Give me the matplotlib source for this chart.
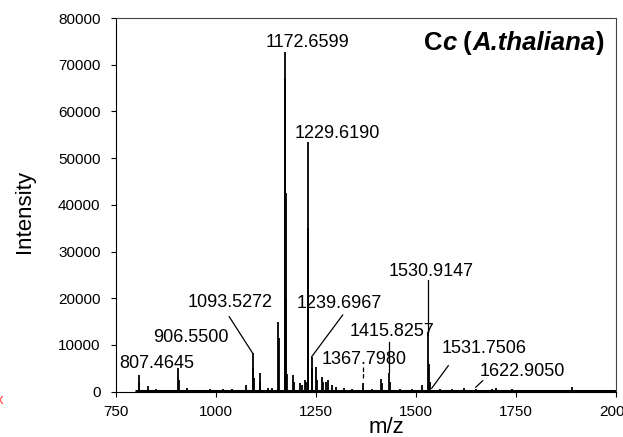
import matplotlib
matplotlib.use("Agg")
import matplotlib.pyplot as plt

plt.rcParams["font.family"] = ["Liberation Sans", "DejaVu Sans"]

# peak list (m/z, intensity)
peak_mz = [806.7, 808.0, 831, 850, 870, 905.8, 907.0, 928, 955, 985, 1016.7, 1040, 1060,
           1075, 1091.7, 1093.5, 1095, 1109, 1111, 1130, 1140, 1154, 1156.5,
           1172.5, 1173.5, 1174.5, 1175.5, 1178, 1193, 1195, 1210, 1214, 1222, 1225,
           1229, 1230, 1231, 1239, 1241, 1250, 1253, 1264, 1267, 1275, 1281, 1290,
           1300, 1320, 1340, 1367.5, 1390, 1413, 1416, 1431.7, 1434, 1460, 1490,
           1515.8, 1530.8, 1532, 1534, 1560, 1590, 1620, 1650, 1690, 1700, 1740,
           1780, 1830, 1889, 1930, 1970]
peak_int = [3500, 1800, 1300, 500, 450, 5100, 2500, 700, 450, 650, 600, 500, 450,
            1500, 8300, 5000, 3000, 3900, 2000, 700, 800, 14900, 11500,
            72800, 67000, 42600, 20000, 3800, 3500, 2000, 1900, 1500, 2500, 2000,
            53500, 35000, 18000, 7400, 5000, 5200, 2500, 3200, 2000, 2000, 2500, 1500,
            1000, 800, 600, 1900, 500, 2800, 1800, 3900, 2000, 600, 500,
            1430, 12800, 6000, 2000, 600, 500, 700, 500, 600, 700, 500,
            450, 400, 1070, 400, 350]

baseline_mz = [798, 2000]
baseline_int = [250, 250]

# annotations: label, text position (m/z, intensity), leader start, leader end, style
labels = ["807.4645", "906.5500", "1093.5272", "1172.6599", "1229.6190", "1239.6967",
          "1367.7980", "1415.8257", "1530.9147", "1531.7506", "1622.9050"]
label_xy = [(852.5, 6080), (936, 11650), (1035, 19200), (1228.75, 74660), (1303.75, 55320),
            (1307.5, 18930), (1371, 6790), (1440, 12850), (1537, 25690), (1671, 9290),
            (1766, 4280)]
leaders = {
    "1093.5272": ((1033, 16060), (1091.75, 8220), "-"),
    "1239.6967": ((1316.75, 16420), (1239.25, 7490), "-"),
    "1367.7980": ((1367.5, 5290), (1367.5, 2930), "--"),
    "1415.8257": ((1432.5, 10700), (1432.5, 4220), "-"),
    "1530.9147": ((1530.75, 23910), (1530.75, 12780), "-"),
    "1531.7506": ((1580.75, 5570), (1539.25, 730), "-"),
    "1622.9050": ((1666.75, 2355), (1649.25, 940), "-"),
}

# title pieces: (text, italic)
title_parts = [("C", False), ("c", True), (" (", False), ("A.thaliana", True), (")", False)]

fig = plt.figure(figsize=(6.23, 4.37), dpi=100)
ax = fig.add_axes([0.1862, 0.1037, 0.8026, 0.8551])

ax.plot(baseline_mz, baseline_int, color="black", lw=2.2, solid_capstyle="butt")
ax.vlines(peak_mz, 0, peak_int, color="black", lw=1.3)

for lab, (x, y) in zip(labels, label_xy):
    ax.text(x, y, lab, fontsize=13, ha="center", va="center")
for lab, (p0, p1, ls) in leaders.items():
    ax.plot([p0[0], p1[0]], [p0[1], p1[1]], color="black", lw=0.9, ls=ls)

# title built from pieces so that only parts are italic
prev = None
for txt, it in title_parts:
    style = "italic" if it else "normal"
    if prev is None:
        prev = ax.text(1519, 74660, txt, fontsize=18.5, fontweight="bold", style=style,
                       ha="left", va="center")
    else:
        prev = ax.annotate(txt, xy=(1, 0), xycoords=prev, fontsize=18.5, fontweight="bold",
                           style=style, ha="left", va="bottom")

ax.set_xlim(750, 2000)
ax.set_ylim(0, 80000)
ax.set_xticks([750, 1000, 1250, 1500, 1750, 2000])
ax.set_yticks(range(0, 80001, 10000))
ax.tick_params(direction="out", length=3.6, width=0.8, labelsize=11)
ax.tick_params(axis="x", pad=6)
ax.tick_params(axis="y", pad=7.5)
for side in ["top", "right"]:
    ax.spines[side].set_color("#444444")
for s in ax.spines.values():
    s.set_linewidth(0.8)

fig.text(0.040, 0.515, "Intensity", rotation=90, fontsize=16, ha="center", va="center")
fig.text(0.621, 0.022, "m/z", fontsize=16, ha="center", va="center")
fig.text(0.0, 0.085, "x", fontsize=11, color="#ff4444", ha="center", va="center")

fig.savefig("out.png", dpi=100)
